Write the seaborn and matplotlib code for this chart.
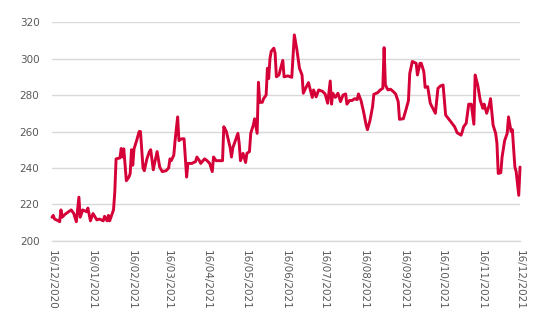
import matplotlib
matplotlib.use("Agg")
import matplotlib.pyplot as plt
import matplotlib.dates as mdates
import numpy as np
import pandas as pd
import seaborn as sns

start_date = "2020-12-16"

# days elapsed since 16/12/2020
day_offsets = [
    0, 1, 2, 5, 6, 7, 8, 10, 13, 15, 17, 19, 21, 22, 24, 27, 28, 30, 32, 35,
    37, 40, 41, 43, 44, 45, 48, 49, 50, 53, 54, 55, 56, 58, 60, 61, 62, 63, 64, 66,
    68, 69, 71, 72, 74, 76, 77, 79, 80, 82, 84, 86, 89, 91, 92, 93, 95, 96, 98, 99,
    101, 103, 105, 106, 109, 112, 113, 115, 116, 119, 121, 123, 125, 126, 128, 131, 133, 134, 136, 139,
    140, 141, 143, 145, 146, 147, 149, 151, 152, 154, 155, 157, 158, 160, 161, 162, 164, 165, 167, 168,
    169, 170, 171, 173, 174, 175, 177, 178, 180, 181, 184, 187, 189, 191, 193, 195, 196, 198, 200, 203,
    204, 206, 208, 211, 213, 215, 217, 218, 219, 221, 223, 225, 227, 229, 230, 232, 234, 236, 238, 239,
    241, 243, 245, 246, 248, 250, 251, 254, 256, 258, 259, 260, 262, 264, 266, 268, 270, 271, 274, 276,
    278, 279, 281, 284, 285, 287, 288, 290, 291, 293, 294, 295, 297, 299, 301, 303, 305, 307, 310, 313,
    314, 316, 319, 320, 321, 323, 325, 327, 329, 330, 332, 334, 336, 337, 339, 341, 342, 344, 346, 347,
    348, 350, 351, 353, 355, 356, 358, 359, 361, 362, 364, 365,
]

price = [
    213, 214, 212, 211, 210.5, 217, 213, 214.5, 216, 217, 215, 210.5, 224, 213, 217, 216, 218, 211, 215, 211.5,
    212, 211, 213.5, 211, 214, 211, 217, 227, 245, 245.5, 250.7, 246, 250.5, 233, 235, 237, 250, 241.5, 250.5, 255,
    260, 260, 240, 238.5, 245, 249, 250, 239, 242.5, 249, 240.5, 238, 238.5, 240, 245, 244, 247, 255, 268, 255,
    256, 256, 235, 242.5, 242.5, 243.5, 246, 244, 242.5, 245, 244, 242.5, 238, 246, 244, 244, 244, 262.6, 260, 251,
    246, 251, 255, 259, 253.5, 244, 248, 243, 248, 249, 259, 263.5, 267, 259, 287, 276, 276, 278, 280, 294.7,
    289, 300, 304, 305.7, 303, 290, 291, 293.8, 299, 290, 290.5, 289.7, 313, 304.8, 294.7, 291, 281, 284, 286.8, 278.7,
    282.8, 279, 282.8, 282, 280.6, 275.5, 287.7, 275, 281, 278.7, 281, 276.4, 280, 280.6, 275, 277, 277, 278, 277.5, 280.6,
    277, 270.8, 263.5, 261, 266, 273.6, 280.4, 281.3, 282.8, 283.7, 306, 285.5, 282.8, 283.2, 282, 280.6, 276.4, 266.7, 267, 271.8,
    277, 291.8, 298.4, 297.4, 291, 297.4, 297.4, 292.8, 284.2, 284.6, 280, 275.5, 272.7, 270, 283.7, 285, 285.5, 269, 266.3, 263.5,
    262.6, 259.3, 258, 260, 262.6, 264.5, 275, 275, 264, 291, 285.5, 277, 272.7, 275, 270, 274.5, 278, 263.5, 259, 253.5,
    237, 237.4, 246, 255, 259, 268, 260, 261, 240.5, 238, 225, 240.5,
]

y_ticks = [200, 220, 240, 260, 280, 300, 320]
# the 16th of every month from Dec 2020 to Dec 2021
x_tick_dates = pd.date_range("2020-12-01", "2021-12-01", freq="MS") + pd.Timedelta(days=15)

df = pd.DataFrame({
    "date": pd.Timestamp(start_date) + pd.to_timedelta(day_offsets, unit="D"),
    "price": price,
})

sns.set_style("white")
plt.rcParams["font.family"] = ["DejaVu Sans"]

fig = plt.figure(figsize=(5.5, 3.3), dpi=100)
ax = fig.add_axes([0.0945, 0.27, 0.851, 0.663])

sns.lineplot(data=df, x="date", y="price", ax=ax, color="#D50037",
             linewidth=2.1, solid_joinstyle="round", clip_on=False)

ax.set_xlim(pd.Timestamp("2020-12-16"), pd.Timestamp("2021-12-16"))
ax.set_ylim(200, 320)
ax.set_yticks(y_ticks)
ax.set_xticks(x_tick_dates)
ax.xaxis.set_major_formatter(mdates.DateFormatter("%d/%m/%Y"))

ax.grid(axis="y", color="#d9d9d9", linewidth=1.0)
ax.grid(axis="x", visible=False)
ax.set_axisbelow(True)
for side in ["top", "right", "left"]:
    ax.spines[side].set_visible(False)
ax.spines["bottom"].set_color("#d9d9d9")
ax.spines["bottom"].set_linewidth(1.0)

ax.tick_params(axis="y", length=0, pad=9, labelsize=7.5, labelcolor="#595959")
ax.tick_params(axis="x", length=3.5, width=1.0, color="#d9d9d9", pad=3,
               labelsize=7.5, labelcolor="#595959", labelrotation=-90)
for lbl in ax.get_xticklabels():
    lbl.set_ha("center")
    lbl.set_va("top")

ax.set_xlabel("")
ax.set_ylabel("")

fig.savefig("out.png", dpi=100)
